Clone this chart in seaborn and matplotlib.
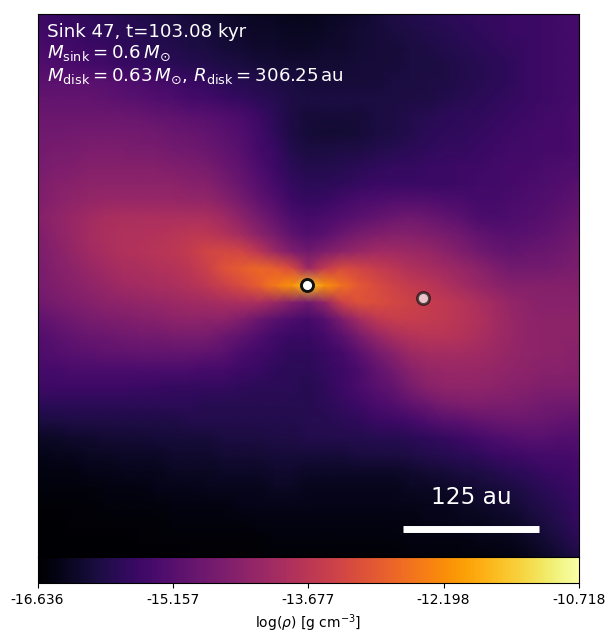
import matplotlib
matplotlib.use('Agg')
import matplotlib.pyplot as plt
import seaborn as sns
import numpy as np

# density, as percent of the colour scale (33 x 33 nodes)
rho_percent = [
    [19,18,17,16,15,14,13,12,11,10,9,8,7,6,6,5,5,6,7,8,10,12,13,14,15,16,17,17,18,18,19,20,21],
    [20,19,18,17,16,15,14,13,12,11,10,9,8,7,7,6,6,7,8,9,10,11,12,13,14,15,16,17,18,18,19,20,21],
    [22,21,20,19,18,16,15,14,13,12,11,10,9,8,8,7,7,8,8,9,10,10,11,12,13,14,15,16,17,18,19,20,21],
    [24,23,22,21,20,18,17,16,15,14,13,12,11,10,9,9,9,9,9,10,10,10,11,11,12,13,14,15,16,18,19,20,21],
    [26,26,26,26,25,24,23,21,20,18,17,15,14,13,12,11,10,10,10,10,10,11,11,12,12,13,14,15,16,18,19,20,21],
    [28,28,28,28,27,26,25,24,23,21,20,18,17,15,14,12,11,11,11,11,11,11,12,12,13,14,15,16,17,18,19,20,21],
    [30,30,30,30,30,30,29,28,27,26,25,24,22,19,15,12,10,10,10,10,11,12,13,14,15,16,16,17,18,19,20,21,22],
    [31,31,32,32,32,32,32,31,30,29,28,26,24,20,16,12,10,9,9,10,11,12,13,15,16,16,17,18,19,20,21,21,22],
    [32,33,33,34,34,34,33,33,32,31,30,28,25,21,18,13,11,11,12,12,13,14,15,16,17,17,18,19,20,20,21,21,22],
    [33,34,35,36,36,36,36,36,35,34,33,30,27,23,19,15,13,13,14,15,16,17,17,18,18,19,19,20,21,21,22,23,23],
    [34,36,37,38,38,38,38,38,38,37,36,33,29,25,21,17,15,15,16,17,18,18,18,18,18,19,20,20,21,22,23,24,25],
    [35,37,39,40,41,41,41,41,41,40,40,37,33,28,24,19,17,18,20,22,23,24,24,24,23,22,21,21,22,23,24,25,27],
    [36,39,41,43,45,46,46,46,46,46,46,43,38,33,28,23,21,22,24,26,28,30,31,30,28,26,23,22,23,24,25,27,29],
    [35,38,41,44,46,47,47,48,49,50,50,48,44,38,33,27,24,26,30,33,35,36,36,35,33,31,28,26,25,26,27,29,31],
    [34,37,40,43,45,47,48,49,50,52,56,57,56,50,42,35,31,35,38,41,43,43,42,41,38,35,32,29,28,29,30,31,33],
    [33,36,38,41,43,45,46,47,48,50,54,60,63,66,64,58,42,52,58,56,53,50,47,45,43,41,38,35,32,32,32,33,34],
    [33,35,37,39,41,43,44,45,46,48,50,54,58,63,70,76,85,76,68,62,58,55,52,50,47,44,41,38,36,36,36,36,36],
    [31,33,35,36,38,39,40,41,42,43,44,45,46,46,42,36,32,40,55,60,59,57,55,53,51,49,46,43,40,38,37,37,37],
    [27,29,31,33,34,35,36,37,38,39,38,38,35,30,26,23,21,25,34,44,50,53,53,52,51,49,47,44,41,39,38,38,38],
    [24,26,28,29,30,31,32,32,33,33,33,30,27,24,20,18,18,21,26,33,40,45,48,49,49,48,46,43,41,39,38,38,38],
    [23,24,25,26,27,27,28,28,28,28,27,26,22,20,18,16,16,18,21,26,32,37,42,44,44,44,43,42,40,39,38,38,37],
    [21,21,22,22,22,22,22,22,22,22,21,21,19,18,16,15,15,17,19,22,27,32,37,40,41,41,41,40,39,38,37,37,36],
    [19,19,19,19,19,19,18,18,17,17,17,17,16,15,15,15,14,16,19,22,25,28,33,37,39,39,39,38,37,36,35,35,35],
    [15,15,15,15,15,15,15,15,15,15,14,14,14,14,14,14,14,15,17,19,22,24,27,30,33,34,35,34,34,33,32,31,31],
    [11,11,12,12,12,12,12,12,12,13,13,13,13,13,13,13,14,14,15,16,18,19,20,23,25,26,28,29,30,30,29,28,27],
    [7,7,8,8,9,9,9,10,10,10,10,11,11,11,12,12,13,13,13,13,14,14,15,16,17,19,21,23,24,25,25,24,24],
    [4,5,5,6,6,7,7,7,8,8,8,9,9,9,10,10,10,10,10,11,11,11,12,13,14,15,16,18,19,20,21,21,22],
    [3,3,3,4,4,5,5,5,6,6,6,7,7,7,8,8,7,7,7,7,7,7,8,9,10,11,12,13,15,16,18,19,20],
    [2,2,2,2,3,3,3,4,4,4,5,5,5,5,6,6,5,5,5,5,5,5,6,6,7,8,9,10,11,13,15,17,19],
    [1,1,1,1,2,2,2,2,3,3,3,3,4,4,4,4,4,4,4,4,4,4,4,5,5,6,7,8,9,11,13,15,18],
    [0,0,1,1,1,1,1,1,2,2,2,2,2,3,3,3,3,3,3,3,3,3,3,4,4,5,5,6,7,9,11,14,17],
    [0,0,0,0,0,0,1,1,1,1,1,1,1,1,2,2,2,2,2,2,2,2,3,3,3,3,4,4,5,7,9,12,15],
    [0,0,0,0,0,0,0,0,0,1,1,1,1,1,1,1,1,1,1,1,1,1,2,2,2,2,2,3,3,5,7,9,12],
]
rho_ticks = [-16.636, -15.157, -13.677, -12.198, -10.718]
tick_labels = ['-16.636', '-15.157', '-13.677', '-12.198', '-10.718']
sink_x = [15.95, 22.8]
sink_y = [15.95, 16.75]
sink_alpha = [1.0, 0.7]

vmin, vmax = rho_ticks[0], rho_ticks[-1]
log_rho = vmin + np.array(rho_percent) / 100 * (vmax - vmin)

W, H = 615, 644
fig = plt.figure(figsize=(W / 100, H / 100), dpi=100)
ax = fig.add_axes([37.6 / W, 1 - 557 / H, 541.4 / W, 543 / H])
cax = fig.add_axes([37.6 / W, 1 - 583 / H, 541.4 / W, 26 / H])

sns.heatmap(log_rho, ax=ax, cmap='inferno', vmin=vmin, vmax=vmax, shading='gouraud',
            xticklabels=False, yticklabels=False, cbar_ax=cax,
            cbar_kws={'orientation': 'horizontal', 'ticks': rho_ticks})
ax.set_xlim(0, 32)
ax.set_ylim(32, 0)
for s in ax.spines.values():
    s.set_visible(True)
    s.set_color('black')
    s.set_linewidth(0.8)

cbar = ax.collections[0].colorbar
cbar.set_ticklabels(tick_labels)
cbar.ax.tick_params(labelsize=10, length=3.5, width=0.8)
cbar.set_label(r'log($\rho$) [g cm$^{-3}$]', fontsize=10)
cbar.outline.set_visible(True)
cbar.outline.set_edgecolor('black')
cbar.outline.set_linewidth(0.8)

# sinks
for x, y, a in zip(sink_x, sink_y, sink_alpha):
    ax.scatter([x], [y], s=75, color='white', edgecolor='#111111', linewidth=2.1, alpha=a, zorder=5)

# scale bar, 125 au
ax.plot([21.62, 29.66], [30.35, 30.35], color='white', lw=5, solid_capstyle='butt', zorder=5)
ax.text(25.63, 28.5, '125 au', color='white', fontsize=16.7, ha='center', va='center')

ax.text(0.017, 0.983,
        'Sink 47, t=103.08 kyr\n'
        r'$M_{\mathrm{sink}} = 0.6\,M_{\odot}$' '\n'
        r'$M_{\mathrm{disk}} = 0.63\,M_{\odot}$, $R_{\mathrm{disk}} = 306.25\,\mathrm{au}$',
        transform=ax.transAxes, color='white', fontsize=13.15, va='top', ha='left')

fig.savefig('out.png', dpi=100)
